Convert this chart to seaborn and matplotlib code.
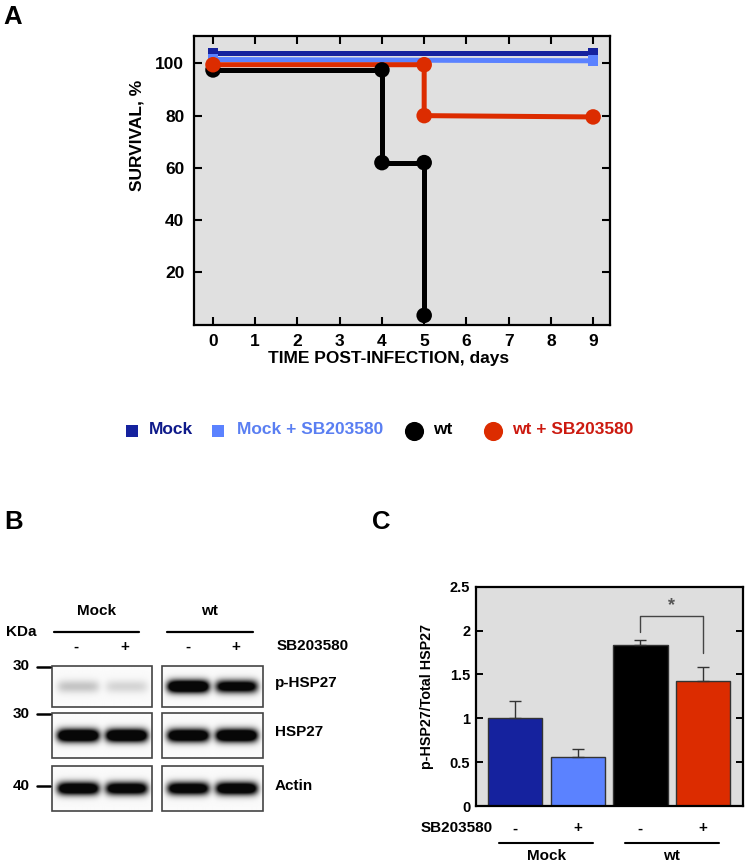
import numpy as np
import pandas as pd
import seaborn as sns
import matplotlib.pyplot as plt
from matplotlib.patches import Rectangle
import matplotlib.transforms as mtransforms

# ---- data ----
groups = ['Mock', 'Mock + SB203580', 'wt', 'wt + SB203580']
colors = ['#15229e', '#5b82ff', '#000000', '#dc2c00']
text_colors = ['#0e1a8a', '#5a7ff2', '#000000', '#cc1a10']

# survival curves (step points, day / % survival)
days_mock = [0, 9]
surv_mock = [104, 104]
days_mock_sb = [0, 9]
surv_mock_sb = [101.5, 101]
days_wt = [0, 4, 4, 5, 5]
surv_wt = [97.5, 97.5, 62, 62, 3.5]
days_wt_sb = [0, 5, 5, 9]
surv_wt_sb = [99.5, 99.5, 80, 79.5]

# western blot band intensities (lanes: Mock -, Mock +, wt -, wt +)
blot_rows = ['p-HSP27', 'HSP27', 'Actin']
blot_kda = ['30', '30', '40']
band_phsp27 = [0.13, 0.09, 1.0, 0.8]
band_hsp27 = [1.0, 1.0, 0.95, 1.0]
band_actin = [0.9, 0.85, 0.85, 0.9]

# densitometry p-HSP27 / total HSP27
bar_labels = ['Mock -', 'Mock +', 'wt -', 'wt +']
bar_values = [1.0, 0.555, 1.83, 1.425]
bar_errors = [0.2, 0.09, 0.06, 0.16]
sb_signs = ['-', '+', '-', '+']

W, H = 748, 865
sns.set_theme(style='ticks')
plt.rcParams['font.family'] = ['Liberation Sans', 'DejaVu Sans']
plt.rcParams.update({'font.weight': 'bold', 'axes.labelweight': 'bold',
                     'text.color': 'black', 'axes.labelcolor': 'black',
                     'xtick.color': 'black', 'ytick.color': 'black',
                     'xtick.direction': 'in', 'ytick.direction': 'in'})

fig = plt.figure(figsize=(W / 100, H / 100), dpi=100)


def px_axes(x0, y0, x1, y1):
    return fig.add_axes([x0 / W, 1 - y1 / H, (x1 - x0) / W, (y1 - y0) / H])


# overlay in pixel coordinates for the blot and free text
ov = fig.add_axes([0, 0, 1, 1])
ov.set_xlim(0, W)
ov.set_ylim(H, 0)
ov.axis('off')

for lab, x, y in [('A', 13, 17), ('B', 14, 522), ('C', 381, 522)]:
    ov.text(x, y, lab, fontsize=18.5, fontweight='bold', ha='center', va='center')

# ---------------- panel A ----------------
axA = px_axes(194, 36, 610, 324.5)
axA.set_facecolor('#e0e0e0')
frames = []
for g, d, s in zip(groups, [days_mock, days_mock_sb, days_wt, days_wt_sb],
                   [surv_mock, surv_mock_sb, surv_wt, surv_wt_sb]):
    frames.append(pd.DataFrame({'group': g, 'day': d, 'survival': s}))
surv = pd.concat(frames, ignore_index=True)
pal = dict(zip(groups, colors))
shapes = {groups[0]: 's', groups[1]: 's', groups[2]: 'o', groups[3]: 'o'}

sns.lineplot(data=surv, x='day', y='survival', hue='group', hue_order=[groups[1], groups[0], groups[3], groups[2]],
             palette=pal, estimator=None, sort=False, linewidth=3.6, legend=False, ax=axA)
sns.scatterplot(data=surv, x='day', y='survival', hue='group', palette=pal,
                style='group', markers=shapes,
                size='group', sizes={groups[0]: 60, groups[1]: 60, groups[2]: 125, groups[3]: 125},
                linewidth=0, legend=False, zorder=5, ax=axA)
axA.set_xlim(-0.45, 9.4)
axA.set_ylim(0, 110.5)
axA.set_xticks(range(10))
axA.set_yticks([20, 40, 60, 80, 100])
axA.tick_params(direction='in', top=True, right=True, length=6, width=1.5, labelsize=12.5, pad=7)
for sp in axA.spines.values():
    sp.set_linewidth(1.6)
    sp.set_color('black')
axA.set_xlabel('')
axA.set_ylabel('')
ov.text(137, 135, 'SURVIVAL, %', rotation=90, fontsize=12.5, fontweight='bold', ha='center', va='center')
ov.text(389, 358, 'TIME POST-INFECTION, days', fontsize=12.5, fontweight='bold', ha='center', va='center')

# legend row
leg_marker_x = [131.7, 218.3, 414.3, 493.3]
leg_text_x = [149.3, 236.7, 433, 511.7]
for g, c, tc, mx, tx in zip(groups, colors, text_colors, leg_marker_x, leg_text_x):
    big = shapes[g] == 'o'
    ov.scatter([mx], [431], marker=shapes[g], s=190 if big else 75, color=c, linewidth=0)
    ov.text(tx, 430, g, color=tc, fontsize=12.5, fontweight='bold', ha='left', va='center')

# ---------------- panel B (blot) ----------------
box_cols = [(51.7, 152.5), (162.3, 262.7)]
box_rows = [(665.7, 706.7), (713.3, 757.7), (766, 811)]
bands = [band_phsp27, band_hsp27, band_actin]
for r, (y0, y1) in enumerate(box_rows):
    for c, (x0, x1) in enumerate(box_cols):
        nx, ny = int((x1 - x0) * 3), int((y1 - y0) * 3)
        X, Y = np.meshgrid(np.linspace(0, 1, nx), np.linspace(0, 1, ny))
        img = np.zeros_like(X)
        for lane_x, a in zip((0.26, 0.74), bands[r][2 * c:2 * c + 2]):
            img += a * np.exp(-np.abs((X - lane_x) / 0.21) ** 6) * np.exp(-((Y - 0.5) * (y1 - y0) / 6.5) ** 2)
        img = np.clip(img * 1.7, 0, 1) + 0.02
        ov.imshow(img, cmap='gray_r', vmin=0, vmax=1.05, extent=(x0, x1, y1, y0), aspect='auto',
                  interpolation='bilinear')
        ov.add_patch(Rectangle((x0, y0), x1 - x0, y1 - y0, fill=False, edgecolor='#444444', lw=1.2))
    ov.text(275, (y0 + y1) / 2 - 3, blot_rows[r], fontsize=11, fontweight='bold', ha='left', va='center')

kda_y = [666.5, 713.5, 786]
for k, y in zip(blot_kda, kda_y):
    ov.text(21, y, k, fontsize=11, fontweight='bold', ha='center', va='center')
    ov.plot([37.5, 50], [y, y], color='black', lw=1.8)
ov.text(6, 632.5, 'KDa', fontsize=11, fontweight='bold', ha='left', va='center')
for name, (x0, x1) in zip(['Mock', 'wt'], [(54, 139.3), (166.7, 252.7)]):
    ov.text((x0 + x1) / 2, 611, name, fontsize=11, fontweight='bold', ha='center', va='center')
    ov.plot([x0, x1], [632.3, 632.3], color='black', lw=1.6)
for s, x in zip(sb_signs, [76, 125, 187.7, 235.7]):
    ov.text(x, 646.5, s, fontsize=11, fontweight='bold', ha='center', va='center')
ov.text(276.7, 646.5, 'SB203580', fontsize=11, fontweight='bold', ha='left', va='center')

# ---------------- panel C ----------------
axC = px_axes(475.7, 586.7, 743, 806)
axC.set_facecolor('#dedede')
bars = pd.DataFrame({'label': bar_labels, 'value': bar_values})
sns.barplot(data=bars, x='label', y='value', hue='label', palette=colors, legend=False, saturation=1,
            width=0.87, edgecolor='#333333', linewidth=1.0, ax=axC)
xs = np.arange(len(bar_values))
axC.errorbar(xs, bar_values, yerr=[np.zeros(4), bar_errors], fmt='none', ecolor='#333333',
             elinewidth=1.0, capsize=4, capthick=1.0, zorder=4)
axC.plot([2, 2, 3, 3], [1.985, 2.167, 2.167, 1.74], color='#444444', lw=1.0)
axC.text(2.5, 2.29, '*', color='#555555', fontsize=13, ha='center', va='center')
axC.set_xlim(-0.63, 3.64)
axC.set_ylim(0, 2.5)
axC.set_yticks([0, 0.5, 1, 1.5, 2, 2.5])
axC.set_yticklabels(['0', '0.5', '1', '1.5', '2', '2.5'])
axC.set_xticks([])
axC.tick_params(axis='y', direction='in', right=True, length=5, width=1.4, labelsize=10.5, pad=4)
for sp in axC.spines.values():
    sp.set_linewidth(1.6)
    sp.set_color('black')
axC.set_xlabel('')
axC.set_ylabel('p-HSP27/Total HSP27', fontsize=10.3, fontweight='bold', labelpad=11)

tr = mtransforms.blended_transform_factory(axC.transData, axC.transAxes)
for s, x in zip(sb_signs, xs):
    axC.text(x, -0.102, s, transform=tr, fontsize=11, fontweight='bold', ha='center', va='center')
axC.text(-0.36, -0.102, 'SB203580', transform=tr, fontsize=11, fontweight='bold', ha='right', va='center')
for name, cx in zip(['Mock', 'wt'], [0.5, 2.5]):
    axC.plot([cx - 0.75, cx + 0.75], [-0.167, -0.167], transform=tr, color='black', lw=1.5, clip_on=False)
    axC.text(cx, -0.23, name, transform=tr, fontsize=11, fontweight='bold', ha='center', va='center')

fig.savefig('out.png', dpi=100)
